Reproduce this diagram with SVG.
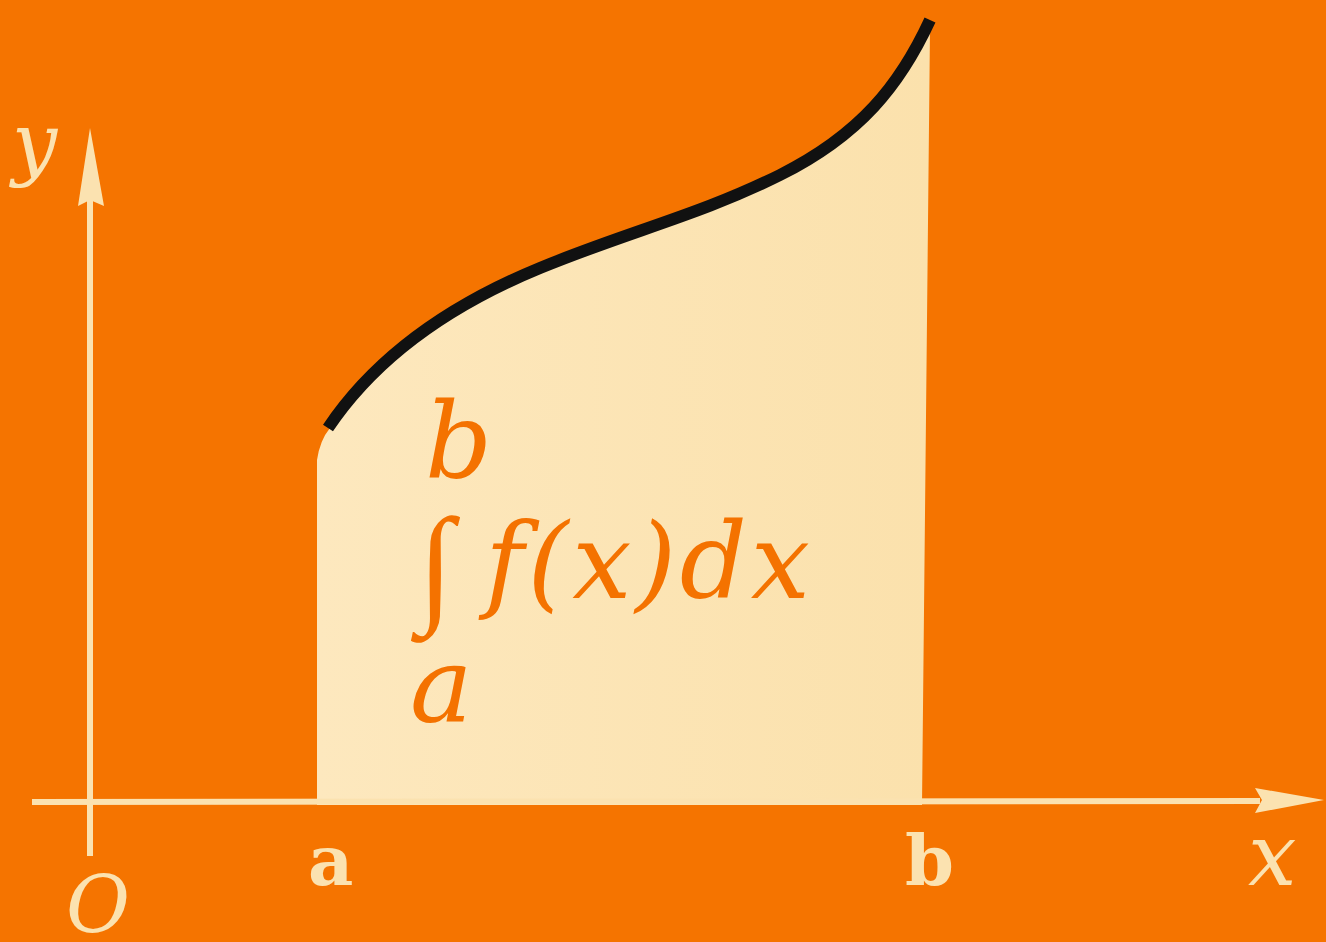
<svg xmlns="http://www.w3.org/2000/svg" width="1326" height="942" viewBox="0 0 1326 942">
<defs>
<linearGradient id="fillg" x1="0" y1="0" x2="1" y2="0">
<stop offset="0" stop-color="#FDE8BE"/>
<stop offset="1" stop-color="#FBE1AC"/>
</linearGradient>
<style>
.axis{stroke:#FBE2B0;stroke-width:6;fill:none}
.head{fill:#FBE2B0}
.lbl{fill:#FBE2B0;font-family:"DejaVu Serif","Liberation Serif",serif}
.math{fill:#F47200;font-family:"DejaVu Serif","Liberation Serif",serif;font-style:italic}
.intg{fill:#F47200;font-family:"Liberation Serif",serif}
</style>
</defs>
<rect width="1326" height="942" fill="#F57400"/>
<g id="area">
<path d="M317,805 L317,460 Q320,440 330,428 C375,358 450,305 540,268 S700,215 780,175 S900,85 930,28 L922,805 Z" fill="url(#fillg)"/>
</g>
<g id="curve">
<path d="M328,428 C375,358 450,305 540,268 S700,215 780,175 S900,85 930,20" stroke="#111" stroke-width="12" fill="none"/>
</g>
<g id="connectors">
<line class="axis" x1="90" y1="200" x2="90" y2="856"/>
<path class="head" d="M90,128 L104,206 L90,200 L78,206 Z"/>
<line class="axis" x1="32" y1="802" x2="1260" y2="801"/>
<path class="head" d="M1324,800 L1255,788 L1262,800 L1255,813 Z"/>
</g>
<g id="labels">
<text class="lbl" x="12" y="170" font-size="80" font-style="italic">y</text>
<text class="lbl" x="66" y="932" font-size="78" font-style="italic">O</text>
<text class="lbl" x="308" y="885" font-size="70" font-weight="bold">a</text>
<text class="lbl" x="905" y="885" font-size="70" font-weight="bold">b</text>
<text class="lbl" x="1248" y="885" font-size="86" font-style="italic">x</text>
</g>
<g id="formula">
<text class="math" x="425" y="478" font-size="105">b</text>
<text class="intg" x="418" y="608" font-size="130">∫</text>
<text class="math" x="485" y="598" font-size="105" textLength="325" lengthAdjust="spacing">f(x)dx</text>
<text class="math" x="410" y="722" font-size="105">a</text>
</g>
</svg>
